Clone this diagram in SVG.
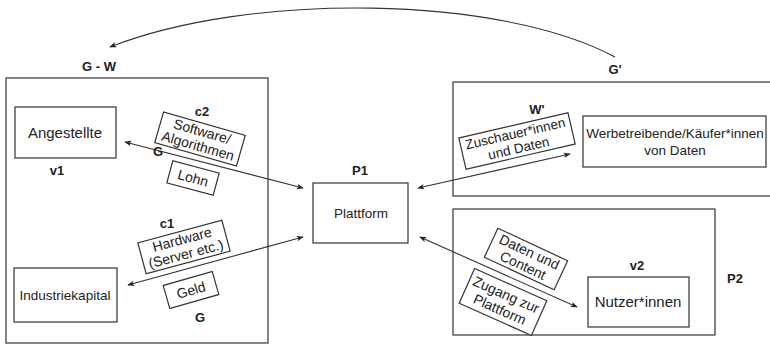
<svg xmlns="http://www.w3.org/2000/svg" width="770" height="345" viewBox="0 0 770 345">
<defs>
<marker id="ah" viewBox="0 0 10 10" refX="9" refY="5" markerWidth="7" markerHeight="7" orient="auto-start-reverse" markerUnits="userSpaceOnUse">
<path d="M0,1 L10,5 L0,9 L2.5,5 Z" fill="#222"/>
</marker>
</defs>
<style>
.box{fill:#fff;stroke:#333;stroke-width:1.2}
.frame{fill:none;stroke:#444;stroke-width:1.3}
.t{font-family:"Liberation Sans",Arial,sans-serif;font-size:13.5px;fill:#222;text-anchor:middle}
.r{font-size:14px}
.big{font-size:15px}
.b{font-family:"Liberation Sans",Arial,sans-serif;font-size:13px;font-weight:bold;fill:#222;text-anchor:middle}
.c{fill:none;stroke:#333;stroke-width:1.1}
</style>
<rect x="0" y="0" width="770" height="345" fill="#fff"/>
<g id="frame-GW"><rect class="frame" x="6" y="78" width="262" height="265"/><text class="b" x="99" y="71">G - W</text></g>
<g id="frame-Gp"><rect class="frame" x="453" y="82" width="320" height="114"/><text class="b" x="615" y="74">G'</text></g>
<g id="frame-P2"><rect class="frame" x="453" y="209" width="262" height="126"/><text class="b" x="735" y="283">P2</text></g>
<g id="connectors">
<path class="c" d="M615,57 C500,-5 250,-8 110,47" marker-end="url(#ah)"/>
<line class="c" x1="125" y1="142" x2="303" y2="188" marker-start="url(#ah)" marker-end="url(#ah)"/>
<line class="c" x1="128" y1="285" x2="303" y2="237" marker-start="url(#ah)" marker-end="url(#ah)"/>
<line class="c" x1="418" y1="188" x2="570" y2="154" marker-start="url(#ah)" marker-end="url(#ah)"/>
<line class="c" x1="420" y1="237" x2="577" y2="307" marker-start="url(#ah)" marker-end="url(#ah)"/>
</g>
<g id="angestellte"><rect class="box" x="15" y="107" width="101" height="51"/><text class="t big" x="65" y="138">Angestellte</text><text class="b" x="57" y="175">v1</text></g>
<g id="industriekapital"><rect class="box" x="14" y="268" width="103" height="54"/><text class="t" x="65" y="300">Industriekapital</text></g>
<g id="plattform"><rect class="box" x="313" y="183" width="95" height="60"/><text class="t" x="361" y="218">Plattform</text><text class="b" x="360" y="175">P1</text></g>
<g id="werbetreibende"><rect class="box" x="583" y="116" width="183" height="51"/><text class="t" x="675" y="138">Werbetreibende/Käufer*innen</text><text class="t" x="675" y="155">von Daten</text></g>
<g id="nutzer"><rect class="box" x="588" y="277" width="101" height="50"/><text class="t big" x="638" y="307">Nutzer*innen</text><text class="b" x="637" y="270">v2</text></g>
<g id="software"><g transform="translate(200,139) rotate(16)"><rect class="box" x="-42.5" y="-16" width="85" height="32"/><text class="t r" x="0" y="-3">Software/</text><text class="t r" x="0" y="12">Algorithmen</text></g><text class="b" x="202" y="116">c2</text></g>
<g id="lohn"><g transform="translate(193,178) rotate(15)"><rect class="box" x="-24" y="-11.5" width="48" height="23"/><text class="t r" x="0" y="5">Lohn</text></g><text class="b" x="158" y="156">G</text></g>
<g id="hardware"><g transform="translate(184,247) rotate(-15)"><rect class="box" x="-43.5" y="-16" width="87" height="32"/><text class="t r" x="0" y="-3">Hardware</text><text class="t r" x="0" y="12">(Server etc.)</text></g><text class="b" x="167" y="228">c1</text></g>
<g id="geld"><g transform="translate(191,290) rotate(-16)"><rect class="box" x="-25.5" y="-12" width="51" height="24"/><text class="t r" x="0" y="5">Geld</text></g><text class="b" x="200" y="322">G</text></g>
<g id="zuschauer"><g transform="translate(517,141) rotate(-13)"><rect class="box" x="-56" y="-16" width="112" height="32"/><text class="t" x="0" y="-3">Zuschauer*innen</text><text class="t" x="0" y="12">und Daten</text></g><text class="b" x="537" y="114">W'</text></g>
<g id="daten"><g transform="translate(526,259) rotate(25)"><rect class="box" x="-38.5" y="-16" width="77" height="32"/><text class="t r" x="0" y="-3">Daten und</text><text class="t r" x="0" y="12">Content</text></g></g>
<g id="zugang"><g transform="translate(503,302) rotate(24)"><rect class="box" x="-39.5" y="-19" width="79" height="38"/><text class="t r" x="0" y="-3">Zugang zur</text><text class="t r" x="0" y="13">Plattform</text></g></g>
</svg>
